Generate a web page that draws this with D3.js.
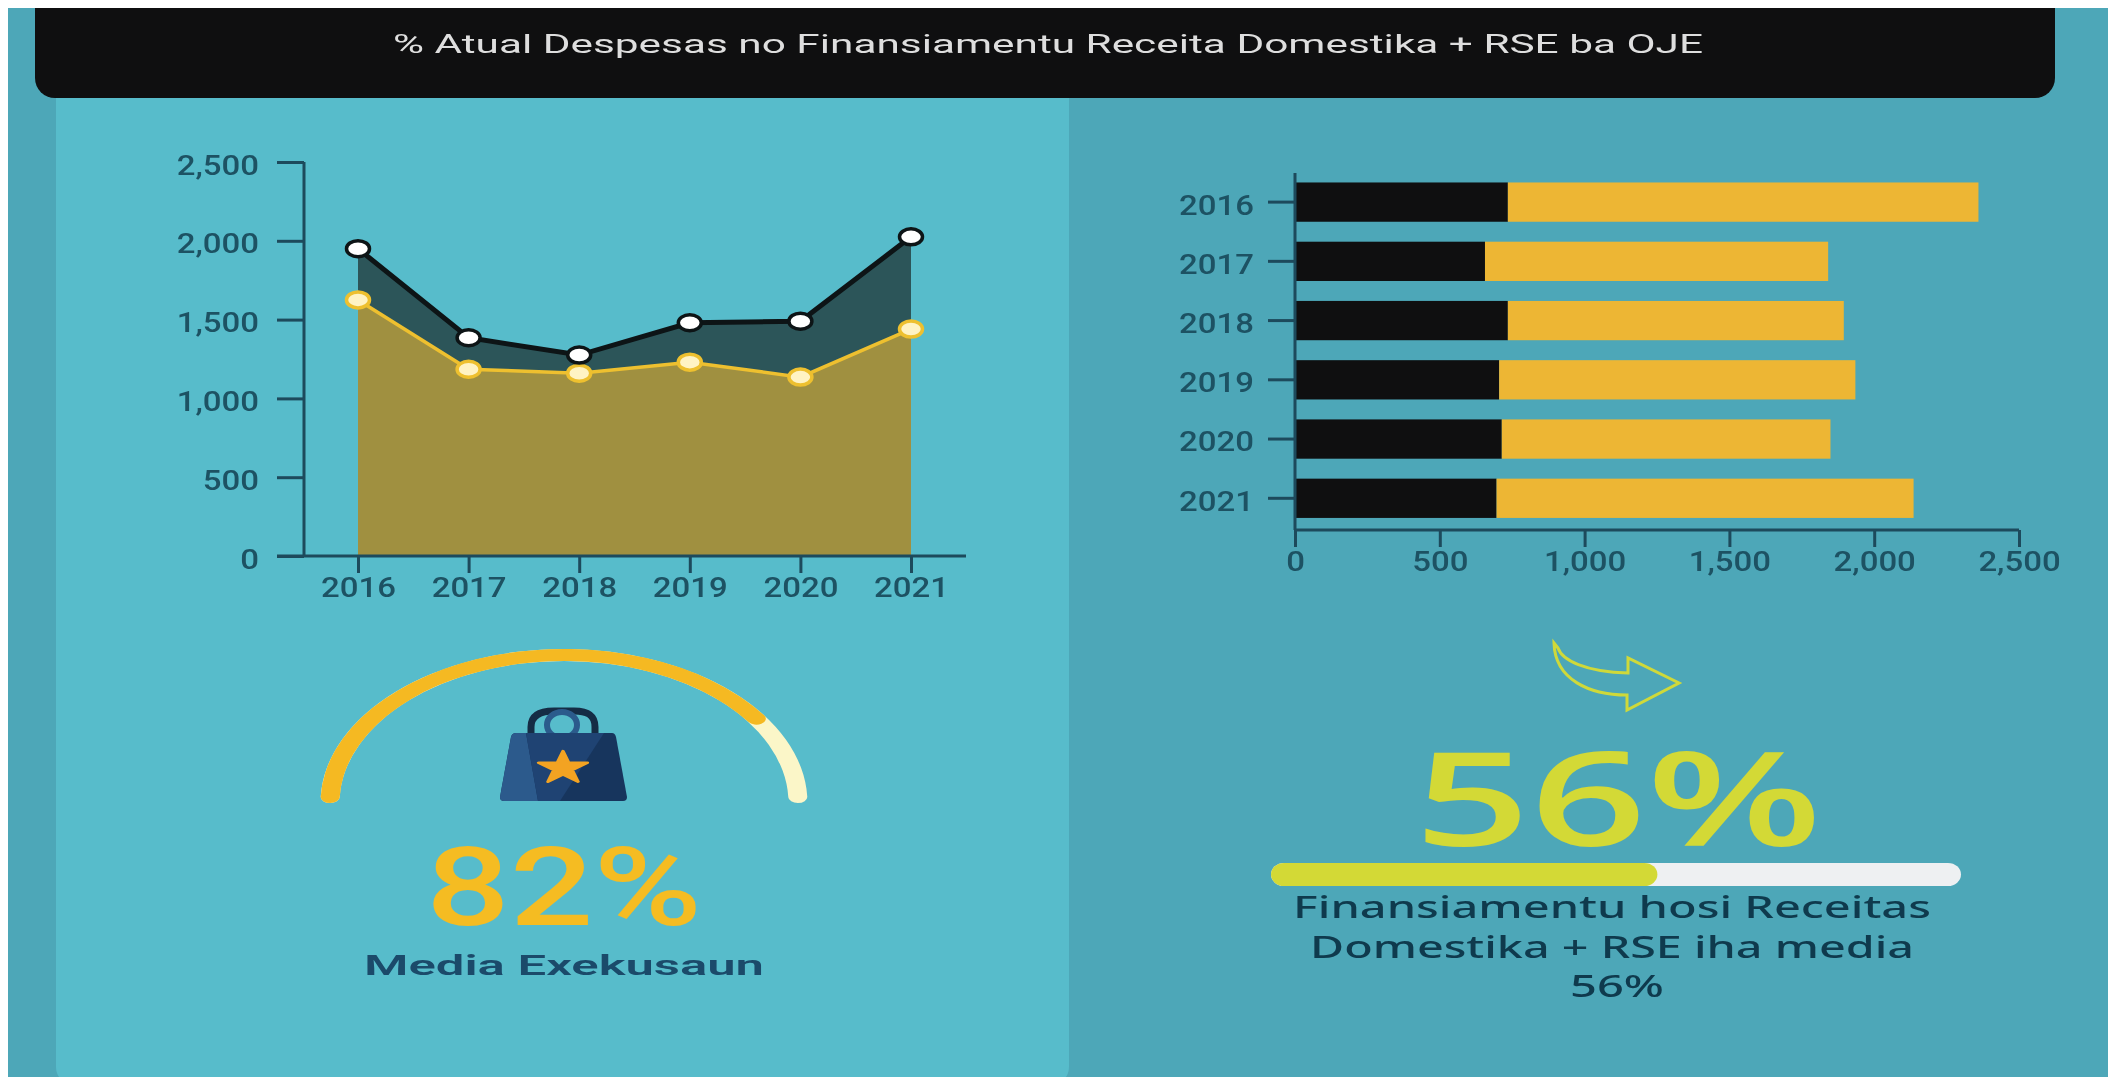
<!DOCTYPE html>
<html>
<head>
<meta charset="utf-8">
<script src="https://cdn.jsdelivr.net/npm/d3@7"></script>
<style>
  html, body { margin: 0; padding: 0; background: #fff; overflow: hidden; }
  svg { display: block; filter: blur(0.7px); }
  .axis text { font-family: Roboto, sans-serif; font-size: 27px; font-weight: 500; fill: #1d5263; }
  .axis line, .axis path { stroke: #1d4a5c; stroke-width: 3px; }
</style>
</head>
<body>
<div id="vis"></div>
<script>
const W = 2108, H = 1077;

const years = ['2016', '2017', '2018', '2019', '2020', '2021'];
const atual = [1950, 1385, 1275, 1480, 1490, 2025];
const receita = [1625, 1185, 1160, 1230, 1135, 1440];
const rse = [735, 656, 735, 705, 714, 696];
const valueTicks = [0, 500, 1000, 1500, 2000, 2500];

const titleText = '% Atual Despesas no Finansiamentu Receita Domestika + RSE ba OJE';
const gaugeValue = 82;
const gaugeLabel = 'Media Exekusaun';
const barValue = 56;
const noteLines = ['Finansiamentu hosi Receitas', 'Domestika + RSE iha media', '56%'];

const svg = d3.select('#vis').append('svg').attr('width', W).attr('height', H);

// the source picture is stretched sideways, so the text is too
const STRETCH = 1.22;
function stretchText(sel, k = STRETCH) {
    sel.each(function () {
        const t = d3.select(this);
        t.attr('textLength', this.getComputedTextLength() * k).attr('lengthAdjust', 'spacingAndGlyphs');
    });
}

function addText(str, x, y, size, weight, fill, family, targetWidth) {
    const t = svg.append('text')
        .attr('x', x).attr('y', y)
        .attr('text-anchor', 'middle')
        .style('font-family', family)
        .style('font-size', size + 'px')
        .style('font-weight', weight)
        .style('fill', fill)
        .text(str);
    t.attr('textLength', targetWidth).attr('lengthAdjust', 'spacingAndGlyphs');
    return t;
}

function drawBackground() {
    svg.append('rect').attr('x', 8).attr('y', 8).attr('width', W - 8).attr('height', H - 8).attr('fill', '#4da7b8');
    svg.append('rect').attr('x', 56).attr('y', 60).attr('width', 1013).attr('height', H - 52)
        .attr('rx', 18).attr('fill', '#57bccb');
    svg.append('rect').attr('x', 35).attr('y', -20).attr('width', 2020).attr('height', 118)
        .attr('rx', 20).attr('fill', '#0f0f10');
    svg.append('rect').attr('x', 0).attr('y', 0).attr('width', W).attr('height', 8).attr('fill', '#fff');
    addText(titleText, 1048, 53, 26, 400, '#dedede', 'Roboto, sans-serif', 1310);
}

function drawLineChart() {
    const x = d3.scalePoint().domain(years).range([358, 911]);
    const y = d3.scaleLinear().domain([0, 2500]).range([556, 162]);
    const axisLeft = 304;

    const areaOf = vals => d3.area()
        .x((d, i) => x(years[i]))
        .y0(y(0))
        .y1(d => y(d))(vals);
    const lineOf = vals => d3.line()
        .x((d, i) => x(years[i]))
        .y(d => y(d))(vals);

    svg.append('path').attr('d', areaOf(atual)).attr('fill', '#2c5559');
    svg.append('path').attr('d', areaOf(receita)).attr('fill', '#a09040');

    const yAxis = svg.append('g').attr('class', 'axis')
        .attr('transform', `translate(${axisLeft},0)`)
        .call(d3.axisLeft(y).tickValues(valueTicks).tickFormat(d3.format(',')).tickSize(27).tickPadding(18));
    yAxis.select('.domain').attr('d', `M0,${y(2500)}V${y(0)}`);
    yAxis.selectAll('text').attr('dy', '0.45em').call(stretchText);

    const xAxis = svg.append('g').attr('class', 'axis')
        .attr('transform', `translate(0,${y(0)})`)
        .call(d3.axisBottom(x).tickSize(17).tickPadding(5));
    xAxis.select('.domain').attr('d', `M${axisLeft - 27},0H966`);
    xAxis.selectAll('text').call(stretchText);

    svg.append('path').attr('d', lineOf(receita)).attr('fill', 'none').attr('stroke', '#eec02f').attr('stroke-width', 3.5);
    svg.append('path').attr('d', lineOf(atual)).attr('fill', 'none').attr('stroke', '#0d1416').attr('stroke-width', 5);

    svg.selectAll('.dot-receita').data(receita).join('ellipse')
        .attr('class', 'dot-receita')
        .attr('cx', (d, i) => x(years[i])).attr('cy', d => y(d))
        .attr('rx', 11.5).attr('ry', 8)
        .attr('fill', '#fff3c4').attr('stroke', '#eec02f').attr('stroke-width', 3.5);
    svg.selectAll('.dot-atual').data(atual).join('ellipse')
        .attr('class', 'dot-atual')
        .attr('cx', (d, i) => x(years[i])).attr('cy', d => y(d))
        .attr('rx', 11.5).attr('ry', 8)
        .attr('fill', '#fff').attr('stroke', '#0d1416').attr('stroke-width', 3.5);
}

function drawBarChart() {
    const x = d3.scaleLinear().domain([0, 2500]).range([1295, 2019]);
    const y = d3.scaleBand().domain(years).range([172.4, 528]).paddingInner(0.337).paddingOuter(0.17);

    svg.selectAll('.bar-rse').data(rse).join('rect')
        .attr('class', 'bar-rse')
        .attr('x', x(0)).attr('y', (d, i) => y(years[i]))
        .attr('width', d => x(d) - x(0)).attr('height', y.bandwidth())
        .attr('fill', '#0f0f10');
    svg.selectAll('.bar-receita').data(receita).join('rect')
        .attr('class', 'bar-receita')
        .attr('x', (d, i) => x(rse[i])).attr('y', (d, i) => y(years[i]))
        .attr('width', d => x(d) - x(0)).attr('height', y.bandwidth())
        .attr('fill', '#edb634');

    const yAxis = svg.append('g').attr('class', 'axis')
        .attr('transform', `translate(${x(0)},0)`)
        .call(d3.axisLeft(y).tickSize(27).tickPadding(14));
    yAxis.select('.domain').attr('d', 'M0,173V530');
    yAxis.selectAll('text').attr('dy', '0.46em').call(stretchText);

    const xAxis = svg.append('g').attr('class', 'axis')
        .attr('transform', 'translate(0,530)')
        .call(d3.axisBottom(x).tickValues(valueTicks).tickFormat(d3.format(',')).tickSize(17).tickPadding(5));
    xAxis.select('.domain').attr('d', `M${x(0)},0H${x(2500)}`);
    xAxis.selectAll('text').call(stretchText);
}

function drawGauge() {
    const cx = 564, cy = 803, r = 148;
    const angle = d3.scaleLinear().domain([0, 100]).range([-Math.PI / 2, Math.PI / 2]);
    const arc = d3.arc().innerRadius(r - 6).outerRadius(r + 6).cornerRadius(6);
    const g = svg.append('g').attr('transform', `translate(${cx},${cy}) scale(${234 / r},1)`);

    g.append('path')
        .attr('d', arc({ startAngle: angle(0), endAngle: angle(100) }))
        .attr('fill', '#fbf6c8');
    g.append('path')
        .attr('d', arc({ startAngle: angle(0), endAngle: angle(gaugeValue) }))
        .attr('fill', '#f5b922');

    // bag icon
    const bag = svg.append('g').attr('transform', `translate(${cx},0)`);
    bag.append('path')
        .attr('d', 'M-33,736V727C-33,714,-22,711,-10,711H10C22,711,31,714,31,727V736')
        .attr('fill', 'none').attr('stroke', '#152c45').attr('stroke-width', 7);
    bag.append('ellipse').attr('cx', -2).attr('cy', 725).attr('rx', 15).attr('ry', 13)
        .attr('fill', 'none').attr('stroke', '#2b5b8c').attr('stroke-width', 6);
    bag.append('path').attr('d', 'M-48,733H48Q51,733,52,737L63,797Q63,801,59,801H-60Q-64,801,-64,797L-53,737Q-52,733,-48,733Z').attr('fill', '#17355d');
    bag.append('path').attr('d', 'M-48,733H-38L-26,801H-60Q-64,801,-64,797L-53,737Q-52,733,-48,733Z').attr('fill', '#2c5a8c');
    bag.append('path').attr('d', 'M-38,733H40L-4,801H-26Z').attr('fill', '#1f4373');
    const star = d3.symbol().type(d3.symbolStar).size(560)();
    bag.append('path').attr('d', star)
        .attr('transform', 'translate(-1,768) scale(1.15,0.76)')
        .attr('fill', '#f3a322').attr('stroke', '#f3a322').attr('stroke-width', 3).attr('stroke-linejoin', 'round');

    addText(`${gaugeValue}%`, cx, 925, 110, 500, '#f5bc22', 'Roboto, sans-serif', 276);
    addText(gaugeLabel, cx, 975, 28, 600, '#1b4a6a', 'Roboto, sans-serif', 400);
}

function drawProgress() {
    const x = d3.scaleLinear().domain([0, 100]).range([1271, 1961]);
    const barY = 863, barH = 23;

    // curved arrow
    svg.append('path')
        .attr('d', 'M1554,643L1558,648C1562,660,1585,672,1628,673V658L1679,683L1627,710V695C1590,695,1555,680,1554,643Z')
        .attr('fill', 'none').attr('stroke', '#cfd93a').attr('stroke-width', 3).attr('stroke-linejoin', 'miter');

    addText(`${barValue}%`, 1618, 846, 131, 600, '#d3d936', '"Open Sans", sans-serif', 408);

    svg.append('rect').attr('x', x(0)).attr('y', barY).attr('width', x(100) - x(0)).attr('height', barH)
        .attr('rx', 13).attr('ry', 11.5).attr('fill', '#eef0f2');
    svg.append('rect').attr('x', x(0)).attr('y', barY).attr('width', x(barValue) - x(0)).attr('height', barH)
        .attr('rx', 13).attr('ry', 11.5).attr('fill', '#d3d936');

    const noteX = [1612, 1612, 1617];
    const noteY = [918, 958, 997];
    const noteW = [638, 604, 94];
    noteLines.forEach((line, i) => {
        addText(line, noteX[i], noteY[i], 31, 500, '#0f3a4d', '"Noto Sans", sans-serif', noteW[i]);
    });
}

drawBackground();
drawLineChart();
drawBarChart();
drawGauge();
drawProgress();
</script>
</body>
</html>
